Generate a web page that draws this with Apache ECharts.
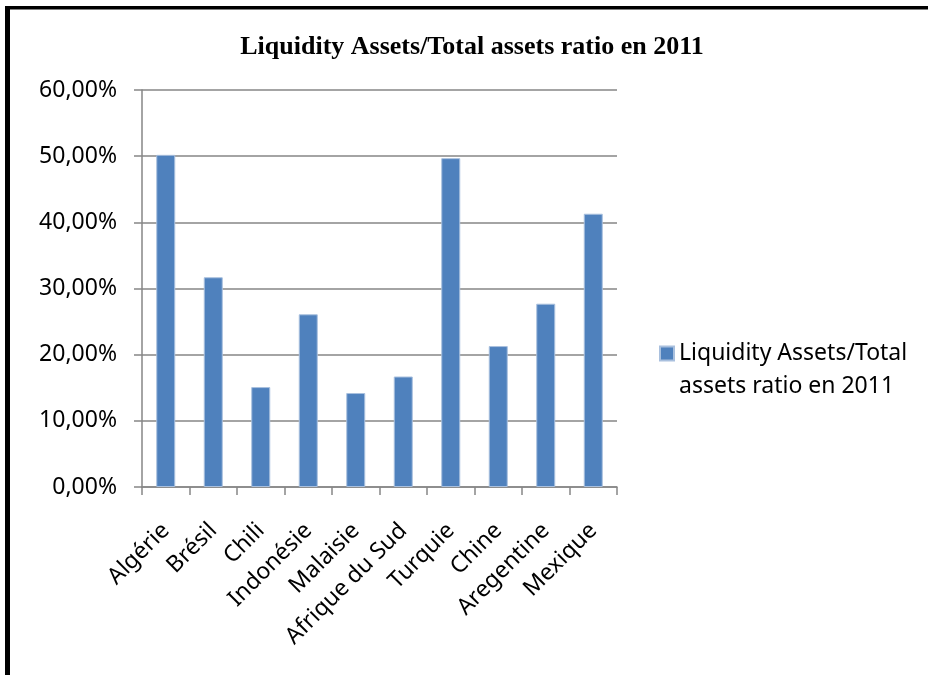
<!DOCTYPE html>
<html>
<head>
<meta charset="utf-8">
<script src="https://cdn.jsdelivr.net/npm/echarts@6/dist/echarts.min.js"></script>
<style>html,body{margin:0;padding:0;background:#fff;}#c{width:928px;height:675px;}</style>
</head>
<body>
<div id="c"></div>
<script>
const categories = ['Algérie','Brésil','Chili','Indonésie','Malaisie','Afrique du Sud','Turquie','Chine','Aregentine','Mexique'];
const values = [0.502, 0.317, 0.151, 0.261, 0.142, 0.167, 0.497, 0.213, 0.277, 0.413];
const seriesName = 'Liquidity Assets/Total assets ratio en 2011';
const titleText = 'Liquidity Assets/Total assets ratio en 2011';

const chart = echarts.init(document.getElementById('c'), null, {renderer: 'canvas'});
const font = 'Noto Sans';
chart.setOption({
  animation: false,
  backgroundColor: '#fff',
  title: {
    text: titleText,
    left: 467, top: 29, textAlign: 'center',
    textStyle: {fontFamily: 'Liberation Serif', fontWeight: 'bold', fontSize: 26, color: '#000'}
  },
  grid: {left: 142, right: 311, top: 90, bottom: 188, containLabel: false},
  legend: {
    left: 659, top: 304, padding: 0,
    itemWidth: 14, itemHeight: 14,
    icon: 'rect',
    formatter: function () { return ' \nLiquidity Assets/Total\nassets ratio en 2011'; },
    textStyle: {fontFamily: font, fontSize: 23, color: '#000', lineHeight: 33},
    data: [seriesName]
  },
  xAxis: {
    type: 'category',
    data: categories,
    axisLine: {lineStyle: {color: '#868686', width: 1.5}},
    axisTick: {show: true, length: 8, lineStyle: {color: '#868686', width: 1.5}},
    axisLabel: {rotate: 45, margin: 40, fontFamily: font, fontSize: 23, color: '#000', interval: 0}
  },
  yAxis: {
    type: 'value', min: 0, max: 0.6, interval: 0.1,
    axisLine: {show: true, lineStyle: {color: '#868686', width: 1.5}},
    axisTick: {show: true, length: 8, lineStyle: {color: '#868686', width: 1.5}},
    splitLine: {lineStyle: {color: '#868686', width: 1.5}},
    axisLabel: {
      margin: 25, fontFamily: font, fontSize: 23, color: '#000',
      formatter: function (v) { return (v * 100).toFixed(2).replace('.', ',') + '%'; }
    }
  },
  series: [{
    name: seriesName,
    type: 'bar',
    data: values,
    barWidth: 19,
    itemStyle: {color: '#4F81BD', borderColor: '#A9C0DE', borderWidth: 1}
  }],
  graphic: [
    {type: 'rect', shape: {x: 5, y: 6, width: 5, height: 669}, style: {fill: '#000'}},
    {type: 'rect', shape: {x: 5, y: 6, width: 923, height: 3.5}, style: {fill: '#000'}}
  ]
});
</script>
</body>
</html>
